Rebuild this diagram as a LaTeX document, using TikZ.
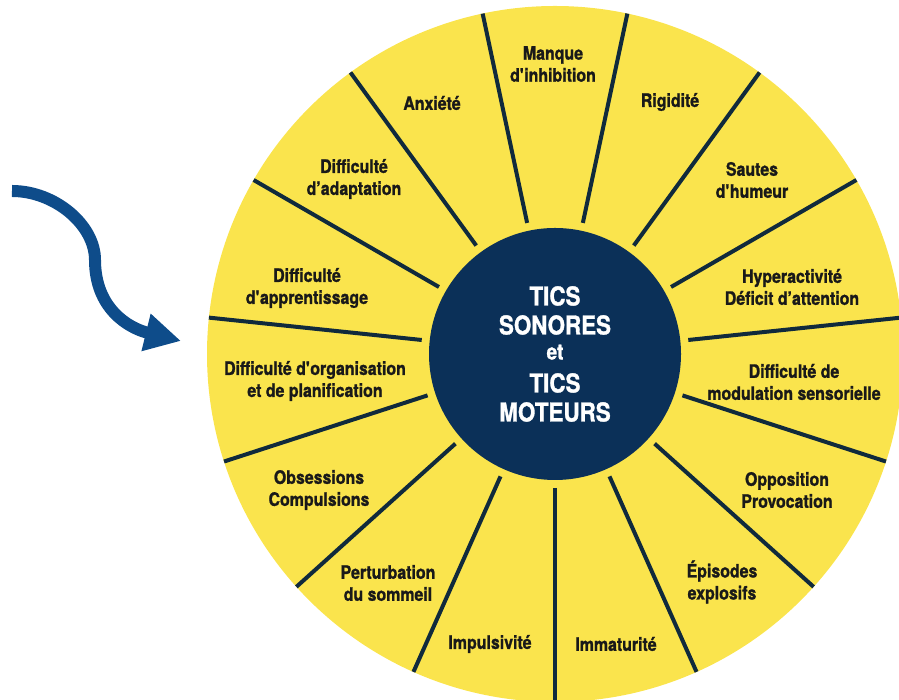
\documentclass[tikz,border=0pt]{standalone}
\usepackage{fontspec}
\setmainfont{TeX Gyre Heros}[FakeStretch=0.86,BoldFeatures={FakeBold=1.2}]
\usetikzlibrary{arrows.meta}
\definecolor{wheelyellow}{RGB}{250,228,77}
\definecolor{ticsnavy}{RGB}{11,48,88}
\definecolor{spokeblue}{RGB}{16,42,60}
\definecolor{arrowblue}{RGB}{14,76,138}
\definecolor{lbltext}{RGB}{25,25,25}
\begin{document}
\begin{tikzpicture}[x=1pt,y=1pt,inner sep=1mm,
		lbl/.style={align=center,text=lbltext,font=\fontsize{18.5}{22}\selectfont\bfseries},
		spoke/.style={draw=spokeblue,line width=4pt},
		centre/.style={circle,fill=ticsnavy,minimum size=252pt,inner sep=0pt,align=center,text=white,font=\fontsize{26}{29}\selectfont\bfseries},
		bluearrow/.style={draw=arrowblue,line width=12pt,-{Triangle[length=36pt,width=36pt]}}]
	\useasboundingbox (0,0) rectangle (899,700);
	\coordinate (c) at (555,346);
	\fill [wheelyellow] (c) circle (348);
	\foreach \a in {-90,-66,...,246}
		\draw [spoke] (c) ++(\a:134) -- ++(\a:214);
	\node [centre] (tics) at (c) {TICS\\SONORES\\[-4pt]{\fontsize{22}{24}\selectfont et}\\[4pt]TICS\\MOTEURS};
	\node [lbl] (manque) at (553,636) {Manque\\d\textquotesingle inhibition};
	\node [lbl] (rigidite) at (670,598) {Rigidité};
	\node [lbl] (sautes) at (752,520) {Sautes\\d\textquotesingle humeur};
	\node [lbl] (hyper) at (792,413) {Hyperactivité\\Déficit d’attention};
	\node [lbl] (modulation) at (794,318) {Difficulté de\\modulation sensorielle};
	\node [lbl] (opposition) at (787,210) {Opposition\\Provocation};
	\node [lbl] (episodes) at (722,118) {Épisodes\\explosifs};
	\node [lbl] (immaturite) at (616,56) {Immaturité};
	\node [lbl] (impulsivite) at (490,56) {Impulsivité};
	\node [lbl] (perturbation) at (388,117) {Perturbation\\du sommeil};
	\node [lbl] (obsessions) at (319,210) {Obsessions\\Compulsions};
	\node [lbl] (organisation) at (315,319) {Difficulté d\textquotesingle organisation\\et de planification};
	\node [lbl] (apprentissage) at (307,412) {Difficulté\\d\textquotesingle apprentissage};
	\node [lbl] (adaptation) at (354,521) {Difficulté\\d’adaptation};
	\node [lbl] (anxiete) at (432,597) {Anxiété};
%	arrow
	\coordinate (arrowstart) at (12,509);
	\coordinate (arrowtip) at (181,359);
	\draw [bluearrow] (arrowstart) .. controls (55,509) and (95,475) .. (95,440) .. controls (95,392) and (128,372) .. (arrowtip);
\end{tikzpicture}
\end{document}
